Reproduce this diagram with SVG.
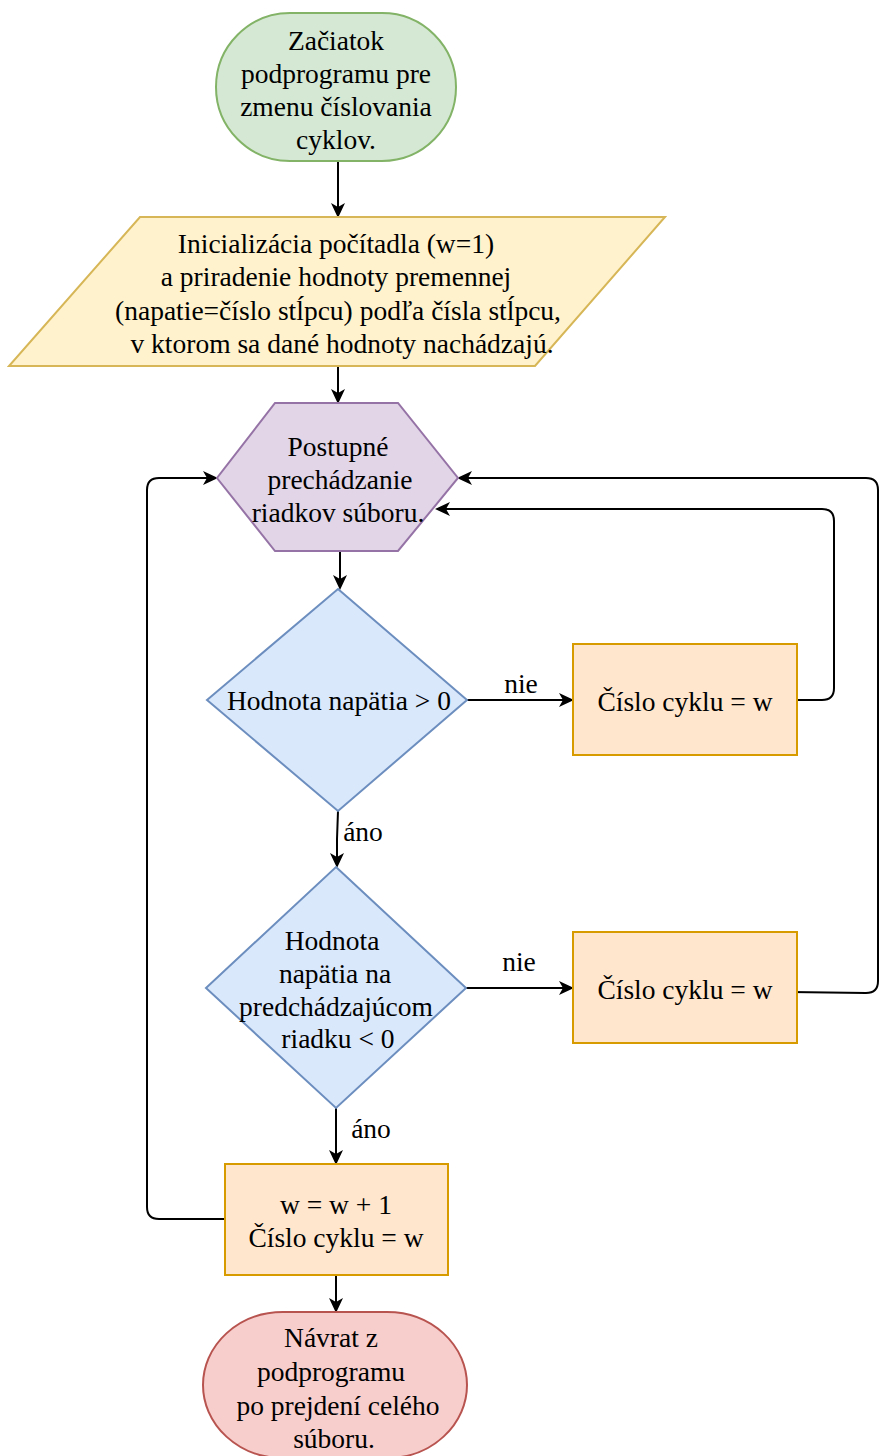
<svg xmlns="http://www.w3.org/2000/svg" width="880" height="1456" viewBox="0 0 880 1456">
<style>
text{font-family:"Liberation Serif","Times New Roman",serif;font-size:27.5px;fill:#000;text-anchor:middle}
.c{fill:none;stroke:#000;stroke-width:2}
.g{fill:#d5e8d4;stroke:#82b366;stroke-width:2}
.y{fill:#fff2cc;stroke:#d6b656;stroke-width:2}
.p{fill:#e1d5e7;stroke:#9673a6;stroke-width:2}
.b{fill:#dae8fc;stroke:#6c8ebf;stroke-width:2}
.o{fill:#ffe6cc;stroke:#d79b00;stroke-width:2}
.r{fill:#f8cecc;stroke:#b85450;stroke-width:2}
</style>
<defs>
<marker id="a" markerWidth="15" markerHeight="14" refX="13" refY="7" orient="auto" markerUnits="userSpaceOnUse">
<path d="M0,0 L15,7 L0,14 L4,7 Z" fill="#000"/>
</marker>
</defs>
<g id="connectors">
<path class="c" d="M338,161 V216" marker-end="url(#a)"/>
<path class="c" d="M338,366 V402" marker-end="url(#a)"/>
<path class="c" d="M340,551 V588" marker-end="url(#a)"/>
<path class="c" d="M338,811 L337,839 V866" marker-end="url(#a)"/>
<path class="c" d="M336,1108 V1163" marker-end="url(#a)"/>
<path class="c" d="M336,1275 V1311" marker-end="url(#a)"/>
<path class="c" d="M467,700 H572" marker-end="url(#a)"/>
<path class="c" d="M466,988 H572" marker-end="url(#a)"/>
<path class="c" d="M797,700 H822 Q834,700 834,688 V521 Q834,509 822,509 H437" marker-end="url(#a)"/>
<path class="c" d="M790,992 L866,993 Q878,993 878,981 V490 Q878,478 866,478 H459" marker-end="url(#a)"/>
<path class="c" d="M225,1219 H159 Q147,1219 147,1207 V490 Q147,478 159,478 H216" marker-end="url(#a)"/>
<text x="363" y="841">áno</text>
<text x="371" y="1138">áno</text>
<text x="521" y="693">nie</text>
<text x="519" y="971">nie</text>
</g>
<g id="start">
<rect class="g" x="216" y="13" width="240" height="148" rx="74" ry="74"/>
<text x="336" y="49.5">Začiatok</text>
<text x="336" y="82.5">podprogramu pre</text>
<text x="336" y="115.5">zmenu číslovania</text>
<text x="336" y="148.5">cyklov.</text>
</g>
<g id="init">
<polygon class="y" points="140,217 665,217 535,366 9,366"/>
<text x="336" y="252.5">Inicializácia počítadla (w=1)</text>
<text x="336" y="285.5">a priradenie hodnoty premennej</text>
<text x="338" y="319.5">(napatie=číslo stĺpcu) podľa čísla stĺpcu,</text>
<text x="342" y="352.5">v ktorom sa dané hodnoty nachádzajú.</text>
</g>
<g id="loop">
<polygon class="p" points="275,403 398,403 458,478 398,551 275,551 217,478"/>
<text x="338" y="455.5">Postupné</text>
<text x="340" y="488.5">prechádzanie</text>
<text x="338" y="521.5">riadkov súboru.</text>
</g>
<g id="dec1">
<polygon class="b" points="338,589 467,700 338,811 207,700"/>
<text x="339" y="709.5">Hodnota napätia &gt; 0</text>
</g>
<g id="box1">
<rect class="o" x="573" y="644" width="224" height="111"/>
<text x="685" y="710.5">Číslo cyklu = w</text>
</g>
<g id="dec2">
<polygon class="b" points="336,867 466,988 336,1108 206,988"/>
<text x="332" y="949.5">Hodnota</text>
<text x="335" y="982.5">napätia na</text>
<text x="336" y="1015.5">predchádzajúcom</text>
<text x="338" y="1047.5">riadku &lt; 0</text>
</g>
<g id="box2">
<rect class="o" x="573" y="932" width="224" height="111"/>
<text x="685" y="998.5">Číslo cyklu = w</text>
</g>
<g id="box3">
<rect class="o" x="225" y="1164" width="223" height="111"/>
<text x="336" y="1213.5">w = w + 1</text>
<text x="336" y="1246.5">Číslo cyklu = w</text>
</g>
<g id="end">
<rect class="r" x="203" y="1312" width="264" height="146" rx="80" ry="73"/>
<text x="331" y="1346.5">Návrat z</text>
<text x="331" y="1380.5">podprogramu</text>
<text x="338" y="1414.5">po prejdení celého</text>
<text x="334" y="1447.5">súboru.</text>
</g>
</svg>
